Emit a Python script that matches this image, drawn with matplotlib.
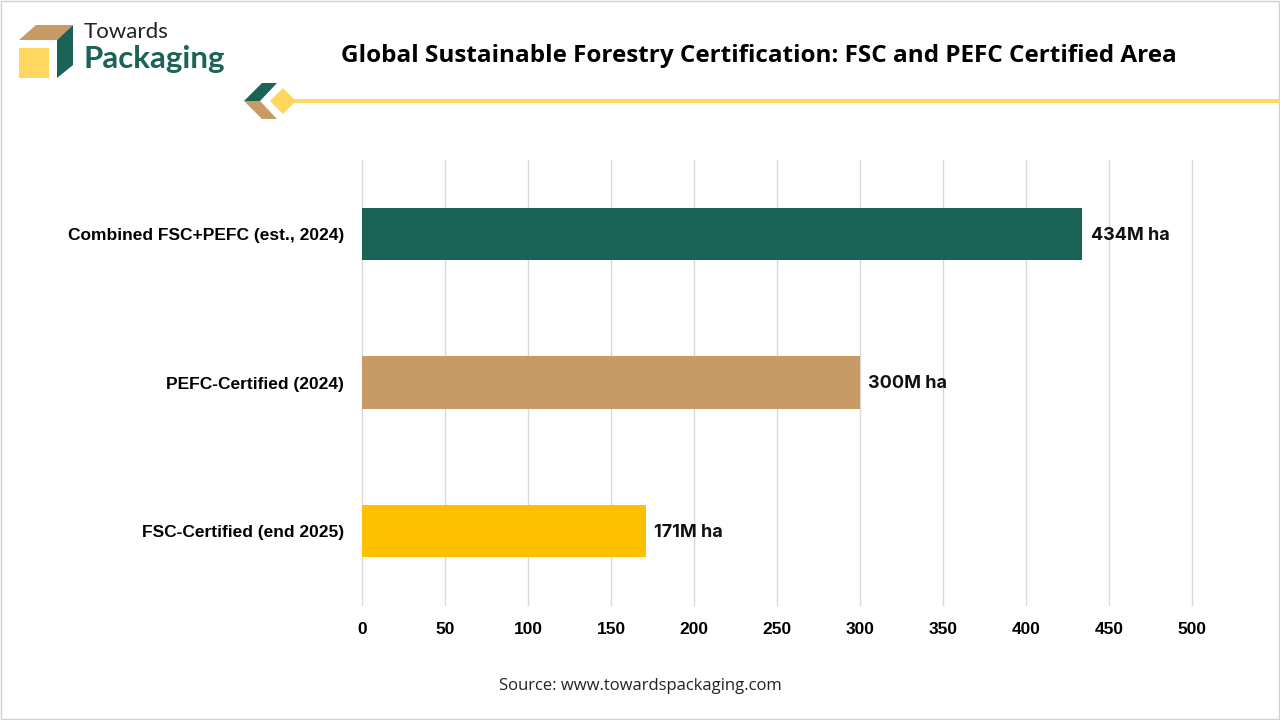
import matplotlib.pyplot as plt
from matplotlib.patches import Polygon, Rectangle

categories = ["FSC-Certified (end 2025)", "PEFC-Certified (2024)", "Combined FSC+PEFC (est., 2024)"]
values = [171, 300, 434]
value_labels = ["171M ha", "300M ha", "434M ha"]
bar_colors = ["#FFC000", "#C89A66", "#1A6356"]
x_ticks = [0, 50, 100, 150, 200, 250, 300, 350, 400, 450, 500]

GREEN = "#1A6356"
TAN = "#C89A66"
LOGO_YELLOW = "#FFD75E"

if __name__ == "__main__":
    fig = plt.figure(figsize=(12.8, 7.2), dpi=100)
    W, H = 1280, 720

    def px(x, y):
        # pixel coords (top-left origin) -> figure fraction
        return (x / W, 1 - y / H)

    def poly(points, color):
        fig.patches.append(Polygon([px(*p) for p in points], closed=True,
                                   facecolor=color, edgecolor="none",
                                   transform=fig.transFigure))

    # thin frame around the picture
    fig.patches.append(Rectangle((0.001, 0.001), 0.998, 0.997, fill=False,
                                 edgecolor="#D0D0D0", linewidth=1,
                                 transform=fig.transFigure))

    # logo
    poly([(19, 40), (36, 25), (73, 25), (57, 40)], TAN)
    poly([(19, 48), (49, 48), (49, 78), (19, 78)], LOGO_YELLOW)
    poly([(57, 40), (73, 25), (73, 65), (57, 78)], GREEN)
    fig.text(*px(84, 32), "Towards", fontsize=16, family="Lato",
             color="#222222", va="center", ha="left")
    fig.text(*px(83, 59), "Packaging", fontsize=22.5, family="Lato",
             fontweight="bold", color=GREEN, va="center", ha="left")

    # decorative line under the title
    poly([(244, 101), (262, 83), (277, 83), (260, 101)], GREEN)
    poly([(244, 101), (260, 101), (277, 119), (262, 119)], TAN)
    poly([(270, 101), (283, 88), (296, 101), (283, 114)], LOGO_YELLOW)
    fig.patches.append(Rectangle(px(290, 103), (1280 - 290) / W, 4 / H,
                                 facecolor=LOGO_YELLOW, edgecolor="none",
                                 transform=fig.transFigure))

    fig.text(*px(759, 56), "Global Sustainable Forestry Certification: FSC and PEFC Certified Area",
             fontsize=17.5, family="Open Sans", fontweight="bold", color="black",
             ha="center", va="center")

    ax = fig.add_axes([362 / W, 1 - 605 / H, (1192 - 362) / W, (605 - 160) / H])
    bars = ax.barh(categories, values, height=0.355, color=bar_colors, zorder=3)
    for bar, label in zip(bars, value_labels):
        ax.text(bar.get_width() + 5, bar.get_y() + bar.get_height() / 2 - 0.01, label,
                fontsize=13, family="Inter", fontweight="bold", color="#111111",
                ha="left", va="center", zorder=4)

    ax.set_xlim(0, 500)
    ax.set_ylim(-0.5, 2.5)
    ax.set_xticks(x_ticks)
    ax.grid(axis="x", color="#D9D9D9", linewidth=1, zorder=0)
    for gl in ax.xaxis.get_gridlines():
        gl.set_clip_on(False)
    for s in ax.spines.values():
        s.set_visible(False)
    ax.tick_params(axis="both", length=0)
    ax.tick_params(axis="y", pad=13)
    ax.tick_params(axis="x", pad=12)
    for lbl in ax.get_yticklabels():
        lbl.set_fontsize(12.5)
        lbl.set_fontweight("bold")
        lbl.set_family("Liberation Sans")
    for lbl in ax.get_xticklabels():
        lbl.set_fontsize(12.5)
        lbl.set_fontweight("bold")
        lbl.set_family("Liberation Sans")

    fig.text(*px(640, 686), "Source: www.towardspackaging.com", fontsize=12,
             family="Open Sans", color="#222222", ha="center", va="center")

    fig.savefig("out.png", dpi=100)
    plt.close(fig)
